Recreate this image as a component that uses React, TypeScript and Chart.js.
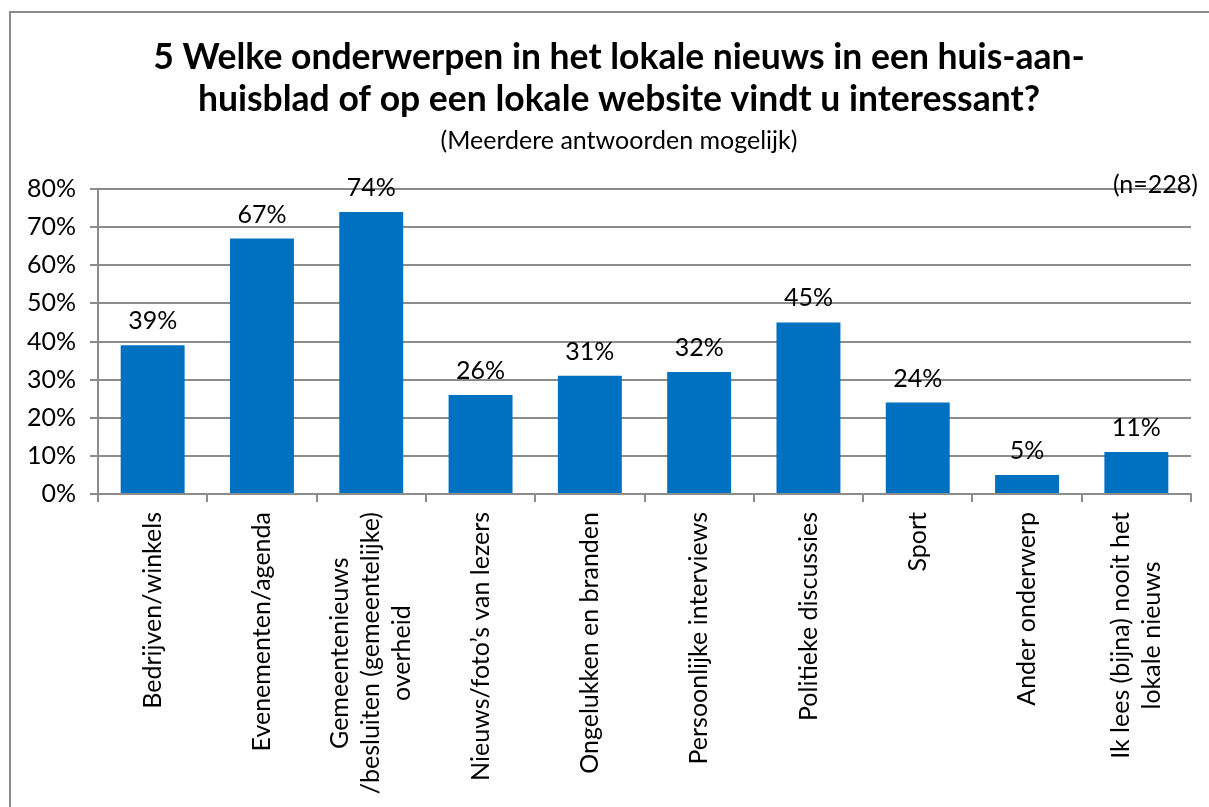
import React, { useEffect, useRef } from 'react';
import { Chart, registerables } from 'chart.js';

Chart.register(...registerables);

const categories: string[][] = [
  ['Bedrijven/winkels'],
  ['Evenementen/agenda'],
  ['Gemeentenieuws', '/besluiten (gemeentelijke)', 'overheid'],
  ['Nieuws/foto’s van lezers'],
  ['Ongelukken en branden'],
  ['Persoonlijke interviews'],
  ['Politieke discussies'],
  ['Sport'],
  ['Ander onderwerp'],
  ['Ik lees (bijna) nooit het', 'lokale nieuws'],
];
const values: number[] = [39, 67, 74, 26, 31, 32, 45, 24, 5, 11];
const titleLines: string[] = [
  '5 Welke onderwerpen in het lokale nieuws in een huis-aan-',
  'huisblad of op een lokale website vindt u interessant?',
];
const subtitleText = '(Meerdere antwoorden mogelijk)';
const sampleNote = '(n=228)';

const FONT = "Lato, 'Open Sans', sans-serif";
const GRID = '#8c8c8c';
const TXT = 25;

const labelsPlugin = {
  id: 'customLabels',
  afterDatasetsDraw(chart: any) {
    const ctx = chart.ctx as CanvasRenderingContext2D;
    const meta = chart.getDatasetMeta(0);
    ctx.save();
    ctx.fillStyle = '#000';
    ctx.font = `${TXT}px ${FONT}`;
    ctx.textAlign = 'center';
    ctx.textBaseline = 'alphabetic';
    meta.data.forEach((bar: any, i: number) => {
      ctx.fillText(values[i] + '%', bar.x, bar.y - 16);
    });
    const xScale = chart.scales.x;
    const top = xScale.top + 18;
    const LH = 31;
    categories.forEach((lines, i) => {
      const x = xScale.getPixelForValue(i);
      const maxW = Math.max(...lines.map((l) => ctx.measureText(l).width));
      ctx.save();
      ctx.translate(x, top);
      ctx.rotate(-Math.PI / 2);
      ctx.textAlign = 'center';
      ctx.textBaseline = 'middle';
      lines.forEach((l, j) => {
        ctx.fillText(l, -maxW / 2, (j - (lines.length - 1) / 2) * LH);
      });
      ctx.restore();
    });
    ctx.textAlign = 'right';
    ctx.textBaseline = 'middle';
    ctx.fillText(sampleNote, chart.chartArea.right + 7, chart.chartArea.top - 4);
    ctx.restore();
  },
};

export default function App() {
  const ref = useRef<HTMLCanvasElement>(null);
  useEffect(() => {
    if (!ref.current) return;
    const chart = new Chart(ref.current, {
      type: 'bar',
      data: {
        labels: categories.map((c) => c.join(' ')),
        datasets: [
          {
            data: values,
            backgroundColor: '#0070C0',
            borderWidth: 0,
            barPercentage: 0.585,
            categoryPercentage: 1,
          },
        ],
      },
      options: {
        animation: false,
        responsive: false,
        layout: { padding: { left: 36, right: 38, top: 0, bottom: 0 } },
        plugins: {
          legend: { display: false },
          tooltip: { enabled: false },
          title: {
            display: true,
            text: titleLines,
            color: '#000',
            font: { family: FONT, size: 35.5, weight: 'bold', lineHeight: 42 / 35.5 },
            padding: { top: 24, bottom: 0 },
          },
          subtitle: {
            display: true,
            text: subtitleText,
            color: '#000',
            font: { family: FONT, size: TXT, lineHeight: 24 / TXT },
            padding: { top: 8, bottom: 36 },
          },
        },
        scales: {
          x: {
            ticks: { display: false },
            grid: {
              drawOnChartArea: false,
              drawTicks: true,
              tickLength: 8,
              color: GRID,
              lineWidth: 2,
            },
            border: { color: GRID, width: 2 },
            afterFit: (scale: any) => {
              scale.height = 313;
            },
          },
          y: {
            min: 0,
            max: 80,
            ticks: {
              stepSize: 10,
              color: '#000',
              mirror: true,
              crossAlign: 'far',
              padding: -71,
              font: { family: FONT, size: TXT },
              callback: (v: any) => v + '%',
            },
            grid: { color: GRID, lineWidth: 2, tickLength: 8 },
            border: { color: GRID, width: 2 },
            afterFit: (scale: any) => {
              scale.width = 51;
            },
          },
        },
      },
      plugins: [labelsPlugin],
    });
    return () => chart.destroy();
  }, []);
  return (
    <div style={{ position: 'fixed', left: 0, top: 0, right: 0, bottom: 0, overflow: 'hidden' }}>
      <div
        style={{
          position: 'absolute',
          left: 9,
          top: 11,
          width: 1220,
          height: 796,
          borderLeft: '2px solid #8c8c8c',
          borderTop: '2px solid #8c8c8c',
          boxSizing: 'border-box',
          background: '#fff',
        }}
      >
        <canvas ref={ref} width={1218} height={794} style={{ display: 'block', width: 1218, height: 794 }} />
      </div>
    </div>
  );
}
